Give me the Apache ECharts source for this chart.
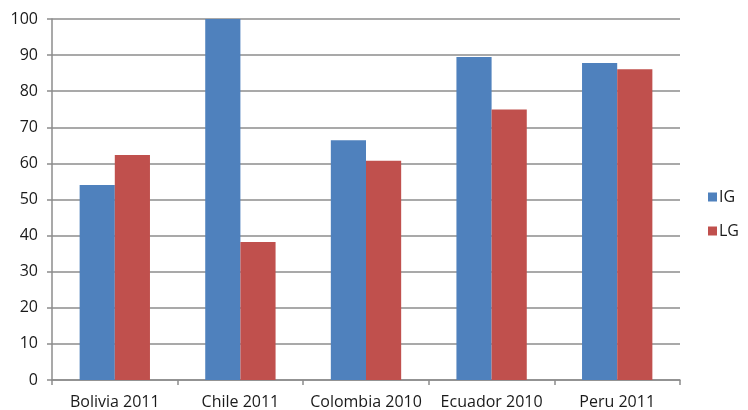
<!DOCTYPE html>
<html>
<head>
<meta charset="utf-8">
<script src="https://cdn.jsdelivr.net/npm/echarts@6/dist/echarts.min.js"></script>
<style>
  html, body { margin: 0; padding: 0; background: #fff; }
  #chart { width: 748px; height: 410px; }
</style>
</head>
<body>
<div id="chart"></div>
<script>
  // values
  var categories = ['Bolivia 2011', 'Chile 2011', 'Colombia 2010', 'Ecuador 2010', 'Peru 2011'];
  var igValues = [54.0, 100.0, 66.4, 89.5, 87.8];
  var lgValues = [62.3, 38.2, 60.7, 74.9, 86.1];
  var yTicks = { min: 0, max: 100, interval: 10 };

  var font = 'Open Sans, Liberation Sans, sans-serif';
  var gridGray = '#8c8c8c';

  var myChart = echarts.init(document.getElementById('chart'));
  var option = {
    animation: false,
    backgroundColor: '#fff',
    grid: { left: 52, right: 68, top: 19, bottom: 30 },
    legend: {
      orient: 'vertical',
      right: 4,
      top: 184,
      itemWidth: 9,
      itemHeight: 9,
      itemGap: 18,
      icon: 'rect',
      textStyle: { fontFamily: font, fontSize: 16, color: '#1a1a1a', padding: [0, 0, 0, -3] },
      data: ['IG', 'LG']
    },
    xAxis: {
      type: 'category',
      data: categories,
      axisLine: { lineStyle: { color: gridGray, width: 1.5 } },
      axisTick: { show: true, length: 5, lineStyle: { color: gridGray, width: 1.5 } },
      axisLabel: { fontFamily: font, fontSize: 16, color: '#1a1a1a', margin: 14, interval: 0 }
    },
    yAxis: {
      type: 'value',
      min: yTicks.min,
      max: yTicks.max,
      interval: yTicks.interval,
      axisLine: { show: true, lineStyle: { color: gridGray, width: 1.5 } },
      axisTick: { show: true, length: 5, lineStyle: { color: gridGray, width: 1.5 } },
      axisLabel: { fontFamily: font, fontSize: 16, color: '#1a1a1a', margin: 14 },
      splitLine: { lineStyle: { color: gridGray, width: 1.5 } }
    },
    series: [
      {
        name: 'IG',
        type: 'bar',
        data: igValues,
        barGap: '0%',
        barCategoryGap: '44%',
        itemStyle: { color: '#4f81bd' }
      },
      {
        name: 'LG',
        type: 'bar',
        data: lgValues,
        barGap: '0%',
        barCategoryGap: '44%',
        itemStyle: { color: '#c0504d' }
      }
    ]
  };
  myChart.setOption(option);
</script>
</body>
</html>
